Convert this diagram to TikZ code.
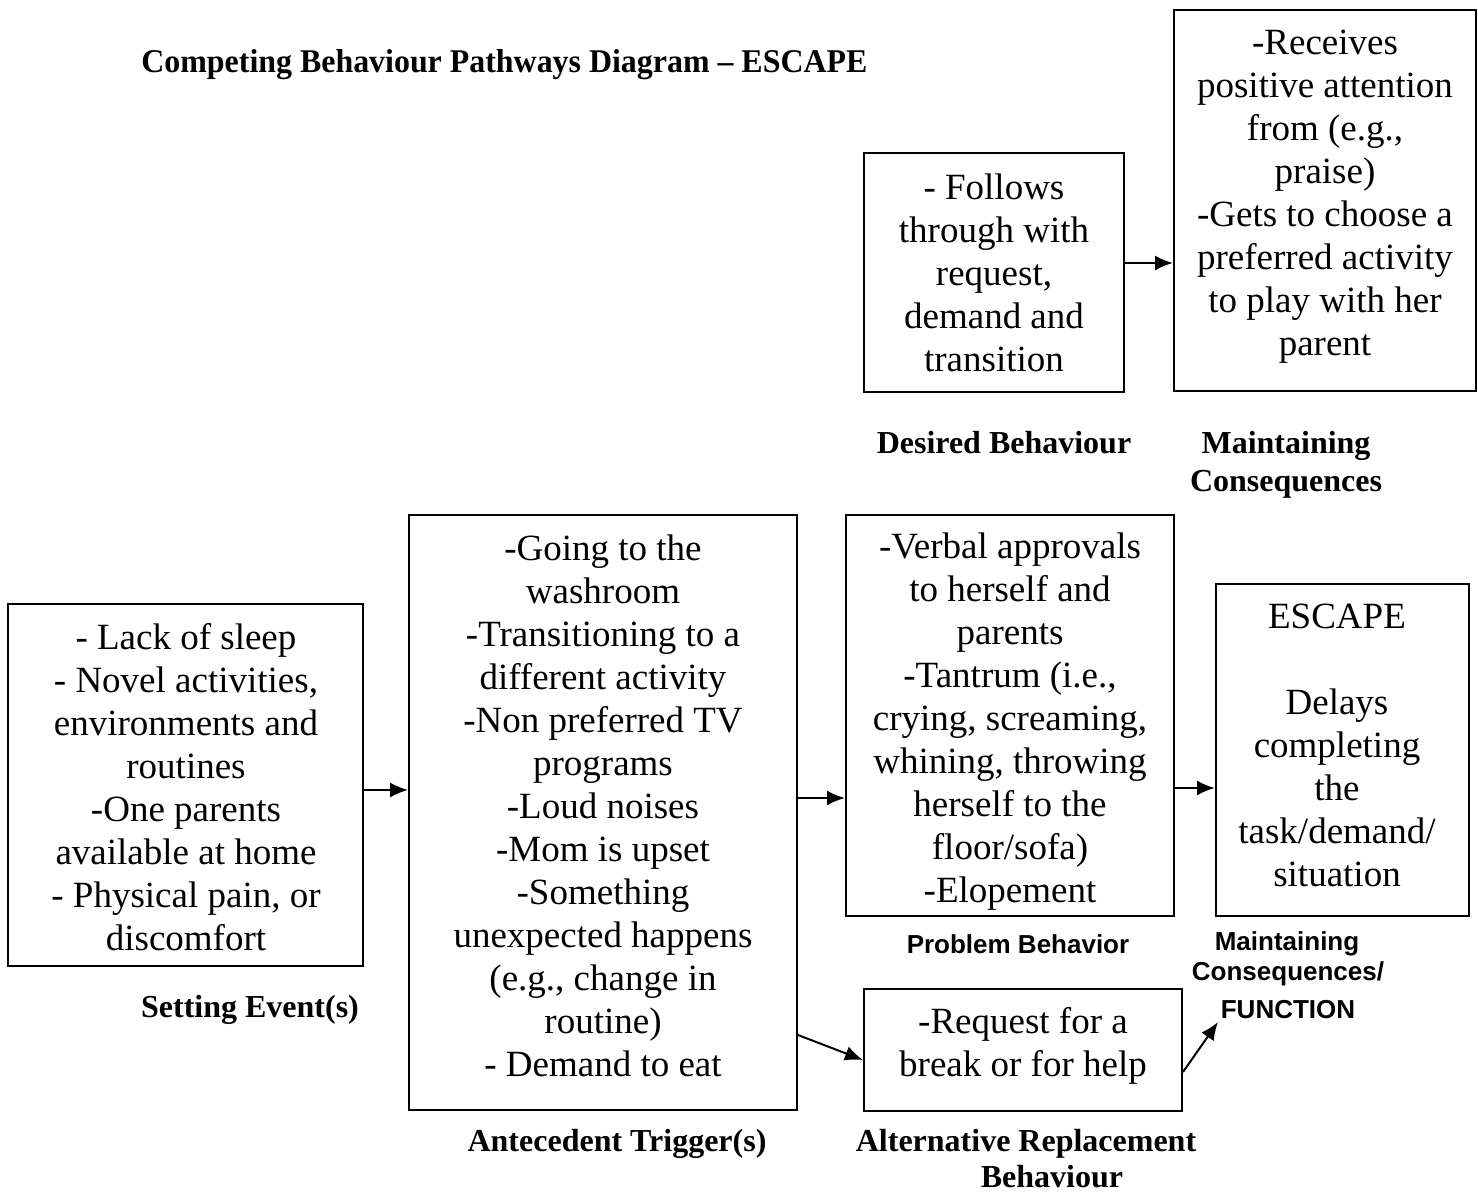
\documentclass[tikz,border=0pt]{standalone}
\usepackage{fontspec}
\setmainfont{Liberation Serif}
\setsansfont{Liberation Sans}
\usetikzlibrary{arrows.meta}
\tikzset{
  box/.style={draw, line width=1pt, inner sep=0pt},
  boxtext/.style={align=center, inner sep=0pt, font=\fontsize{18.5}{21.5}\selectfont},
  caption/.style={align=center, inner sep=0pt, font=\fontsize{16}{19}\selectfont\bfseries},
  sanscap/.style={align=center, inner sep=0pt, font=\fontsize{13}{15}\selectfont\sffamily\bfseries},
  arr/.style={line width=1pt, -{Latex[length=9pt,width=7.5pt]}}
}
\begin{document}
\begin{tikzpicture}[x=0.5pt, y=-0.5pt]
\useasboundingbox (0,0) rectangle (1478,1192);

% title
\node[anchor=west, inner sep=0pt] (title) at (141,65)
  {\resizebox{363pt}{11.5pt}{\fontsize{16}{19}\selectfont\bfseries Competing Behaviour Pathways Diagram -- ESCAPE}};

% boxes
\node[box, minimum width=177.5pt, minimum height=181pt] (set) at (185.5,785) {};
\node[box, minimum width=194pt, minimum height=297.5pt] (ant) at (603,812.5) {};
\node[box, minimum width=164pt, minimum height=200.5pt] (prob) at (1010,715.5) {};
\node[box, minimum width=126.5pt, minimum height=166pt] (esc) at (1342.5,750) {};
\node[box, minimum width=130pt, minimum height=119.5pt] (des) at (994,272.5) {};
\node[box, minimum width=151pt, minimum height=190.5pt] (mnt) at (1325,200.5) {};
\node[box, minimum width=159pt, minimum height=61pt] (alt) at (1023,1050) {};

% box contents
\node[boxtext] (setT) at (186,787) {- Lack of sleep\\- Novel activities,\\environments and\\routines\\-One parents\\available at home\\- Physical pain, or\\discomfort};
\node[boxtext] (antT) at (603,806) {-Going to the\\washroom\\-Transitioning to a\\different activity\\-Non preferred TV\\programs\\-Loud noises\\-Mom is upset\\-Something\\unexpected happens\\(e.g., change in\\routine)\\- Demand to eat};
\node[boxtext] (probT) at (1010,722) {-Verbal approvals\\to herself and\\parents\\-Tantrum (i.e.,\\crying, screaming,\\whining, throwing\\herself to the\\floor/sofa)\\-Elopement};
\node[boxtext] (escT) at (1337,745) {ESCAPE\\[21.5pt]Delays\\completing\\the\\task/demand/\\situation};
\node[boxtext] (desT) at (994,273) {- Follows\\through with\\request,\\demand and\\transition};
\node[boxtext] (mntT) at (1325,197) {-Receives\\positive attention\\from (e.g.,\\praise)\\-Gets to choose a\\preferred activity\\to play with her\\parent};
\node[boxtext] (altT) at (1023,1046) {-Request for a\\break or for help};

% captions
\node[caption] (desC) at (1004,443) {Desired Behaviour};
\node[caption] (mntC) at (1286,465) {Maintaining\\Consequences};
\node[caption] (setC) at (250,1010) {Setting Event(s)};
\node[caption] (antC) at (617,1144) {Antecedent Trigger(s)};
\node[caption] (altC1) at (1026,1144) {Alternative Replacement};
\node[caption] (altC2) at (1052,1177) {Behaviour};
\node[sanscap] (probC) at (1018,944) {Problem Behavior};
\node[sanscap] (fnC1) at (1287,944) {Maintaining};
\node[sanscap] (fnC2) at (1288,974) {Consequences/};
\node[sanscap] (fnC3) at (1288,1010) {FUNCTION};
\coordinate (fnTip) at (1218,1022);

% connectors
\draw[arr] (set.east |- 0,790) -- (ant.west |- 0,790);
\draw[arr] (ant.east |- 0,798) -- (prob.west |- 0,798);
\draw[arr] (prob.east |- 0,788) -- (esc.west |- 0,788);
\draw[arr] (des.east |- 0,263) -- (mnt.west |- 0,263);
\draw[arr] (ant.east |- 0,1035) -- (alt.west |- 0,1060);
\draw[arr] (alt.east |- 0,1072) -- (fnTip);
\end{tikzpicture}
\end{document}
